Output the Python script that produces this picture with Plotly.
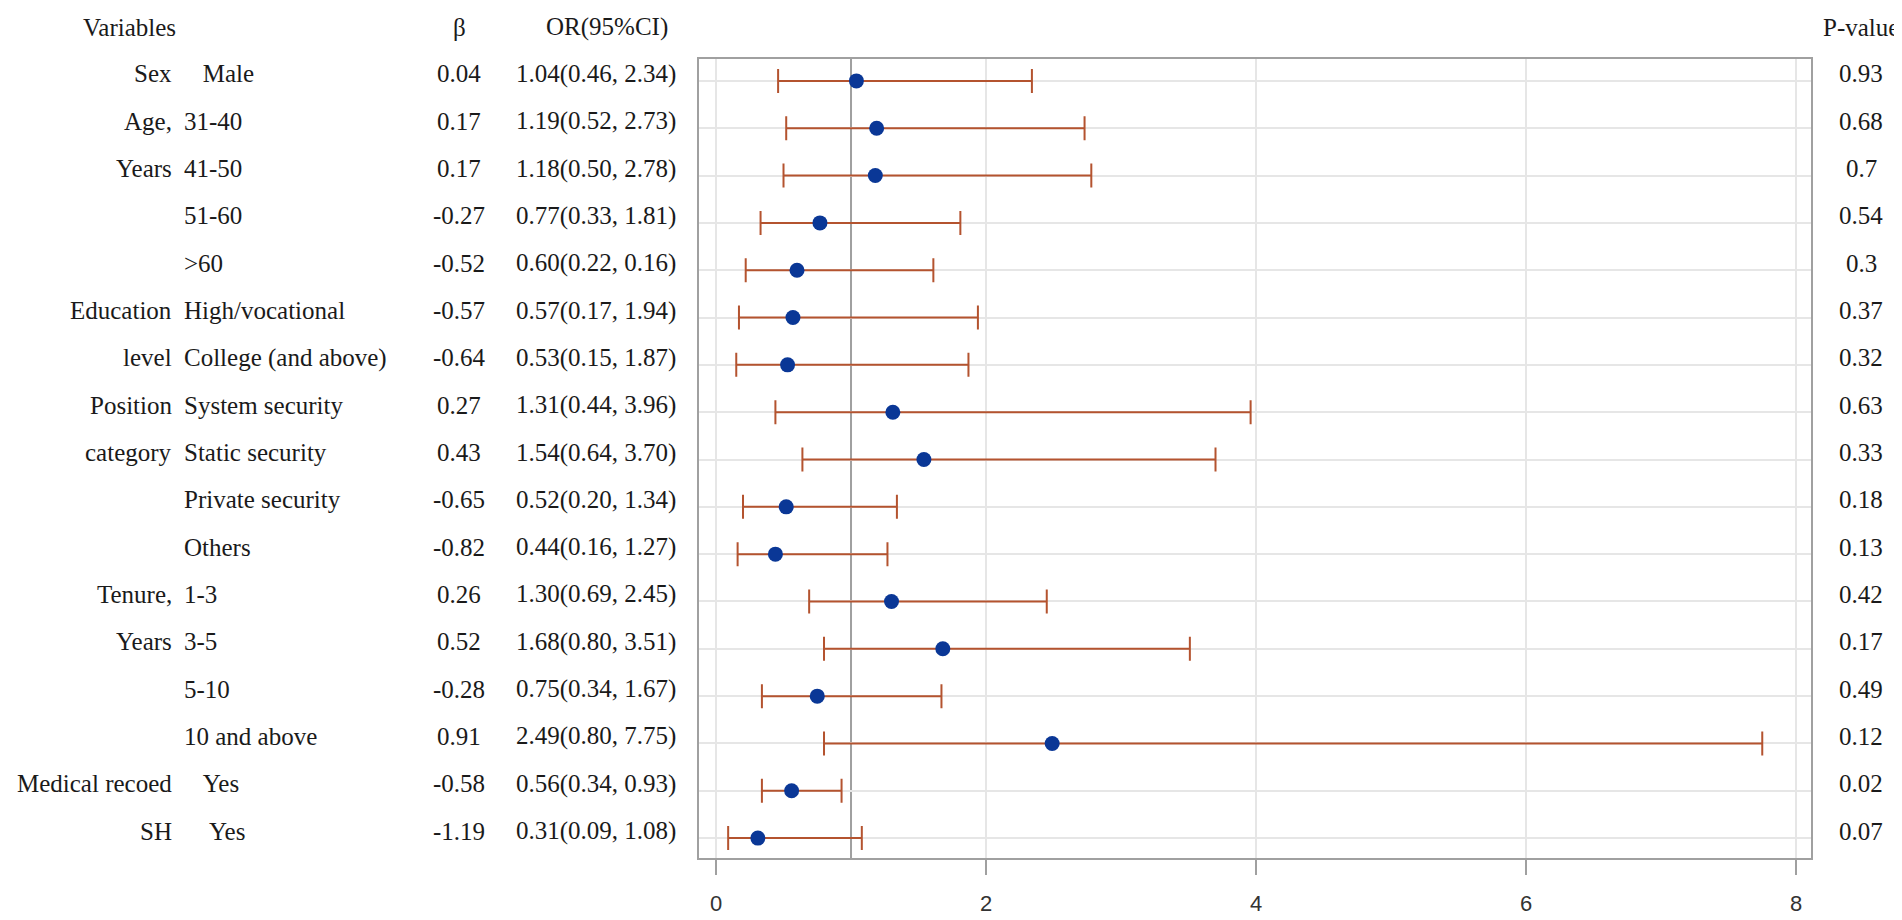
import plotly.graph_objects as go

# forest plot data, one entry per row (top to bottom)
groups = ["Sex", "Age,", "Years", "", "", "Education", "level", "Position", "category", "", "",
          "Tenure,", "Years", "", "", "Medical recoed", "SH"]
subgroups = ["\u00a0\u00a0\u00a0Male", "31-40", "41-50", "51-60", ">60", "High/vocational", "College (and above)",
             "System security", "Static security", "Private security", "Others", "1-3", "3-5", "5-10",
             "10 and above", "\u00a0\u00a0\u00a0Yes", "\u00a0\u00a0\u00a0\u00a0Yes"]
beta = ["0.04", "0.17", "0.17", "-0.27", "-0.52", "-0.57", "-0.64", "0.27", "0.43", "-0.65", "-0.82",
        "0.26", "0.52", "-0.28", "0.91", "-0.58", "-1.19"]
odds = [1.04, 1.19, 1.18, 0.77, 0.60, 0.57, 0.53, 1.31, 1.54, 0.52, 0.44, 1.30, 1.68, 0.75, 2.49, 0.56, 0.31]
ci_low = [0.46, 0.52, 0.50, 0.33, 0.22, 0.17, 0.15, 0.44, 0.64, 0.20, 0.16, 0.69, 0.80, 0.34, 0.80, 0.34, 0.09]
ci_high = [2.34, 2.73, 2.78, 1.81, 1.61, 1.94, 1.87, 3.96, 3.70, 1.34, 1.27, 2.45, 3.51, 1.67, 7.75, 0.93, 1.08]
or_text = ["1.04(0.46, 2.34)", "1.19(0.52, 2.73)", "1.18(0.50, 2.78)", "0.77(0.33, 1.81)", "0.60(0.22, 0.16)",
           "0.57(0.17, 1.94)", "0.53(0.15, 1.87)", "1.31(0.44, 3.96)", "1.54(0.64, 3.70)", "0.52(0.20, 1.34)",
           "0.44(0.16, 1.27)", "1.30(0.69, 2.45)", "1.68(0.80, 3.51)", "0.75(0.34, 1.67)", "2.49(0.80, 7.75)",
           "0.56(0.34, 0.93)", "0.31(0.09, 1.08)"]
p_values = ["0.93", "0.68", "0.7", "0.54", "0.3", "0.37", "0.32", "0.63", "0.33", "0.18", "0.13",
            "0.42", "0.17", "0.49", "0.12", "0.02", "0.07"]
x_ticks = [0, 2, 4, 6, 8]

rows = list(range(len(odds)))
W, H = 1902, 920
L, R, T, B = 691, 1803, 51, 854

def px(x):
    # pixel x -> paper x
    return (x - L) / (R - L)

def py(y):
    # pixel y -> paper y
    return (B - y) / (B - T)

serif = dict(family="Liberation Serif", size=25, color="#1a1a1a")

fig = go.Figure()
fig.add_trace(go.Scatter(
    x=odds, y=rows, mode="markers",
    marker=dict(color="#0a3796", size=15),
    error_x=dict(type="data", symmetric=False,
                 array=[h - o for h, o in zip(ci_high, odds)],
                 arrayminus=[o - l for o, l in zip(odds, ci_low)],
                 color="#b4532f", thickness=2, width=12),
    showlegend=False, cliponaxis=False,
))

fig.add_vline(x=1, line=dict(color="#a0a0a0", width=2), layer="below")

ann = []
headers = [("Variables", 73, "left"), ("β", 451, "center"), ("OR(95%CI)", 599, "center"),
           ("P-value", 1853, "center")]
for txt, x, anc in headers:
    ann.append(dict(text=txt, x=px(x), y=py(19), xref="paper", yref="paper",
                    xanchor=anc, yanchor="middle", showarrow=False, font=serif))

columns = [(groups, 166, "right"), (subgroups, 174, "left"), (beta, 451, "center"),
           (or_text, 506, "left"), (p_values, 1853, "center")]
for col, x, anc in columns:
    for i in rows:
        if not col[i]:
            continue
        ann.append(dict(text=col[i], x=px(x), y=i, xref="paper", yref="y", yshift=7,
                        xanchor=anc, yanchor="middle", showarrow=False, font=serif))

fig.update_layout(
    width=W, height=H,
    margin=dict(l=L, r=W - R, t=T, b=H - B),
    plot_bgcolor="white", paper_bgcolor="white",
    annotations=ann,
    xaxis=dict(range=[-0.126, 8.111], tickvals=x_ticks, showgrid=True, gridcolor="#e6e6e6", gridwidth=2,
               zeroline=False, showline=True, linecolor="#a0a0a0", linewidth=2, mirror=True,
               ticks="outside", ticklen=15, tickcolor="#a0a0a0", tickwidth=2, ticklabelstandoff=10,
               tickfont=dict(family="Liberation Sans", size=22, color="#333333")),
    yaxis=dict(range=[16.42, -0.463], tickvals=rows, showticklabels=False, showgrid=True,
               gridcolor="#e6e6e6", gridwidth=2, zeroline=False, showline=True,
               linecolor="#a0a0a0", linewidth=2, mirror=True, ticks=""),
)

fig.write_html("out.html")
